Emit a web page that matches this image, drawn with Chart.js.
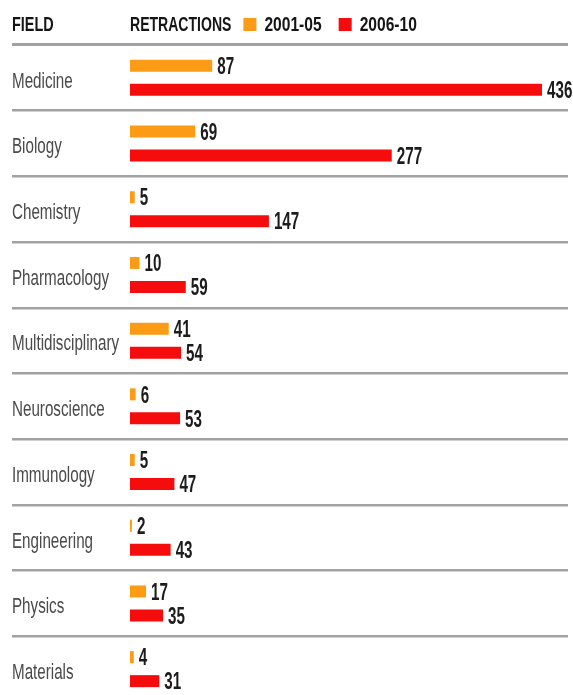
<!DOCTYPE html>
<html lang="en">
<head>
  <meta charset="UTF-8" />
  <title>Retractions by field</title>
  <script src="https://cdn.jsdelivr.net/npm/chart.js"></script>
  <style>
    html, body { margin: 0; padding: 0; background: #fff; overflow: hidden; }
    .wrap { position: relative; width: 573px; height: 702px; }
  </style>
</head>
<body>
  <div class="wrap"><canvas id="chartRetractions"></canvas></div>

  <script>
    const fields = ["Medicine", "Biology", "Chemistry", "Pharmacology", "Multidisciplinary",
                    "Neuroscience", "Immunology", "Engineering", "Physics", "Materials"];
    const retractions2001 = [87, 69, 5, 10, 41, 6, 5, 2, 17, 4];
    const retractions2006 = [436, 277, 147, 59, 54, 53, 47, 43, 35, 31];
    const seriesLabels = ["2001-05", "2006-10"];
    const seriesColors = ["#fb9b16", "#f50d0d"];
    const headerField = "FIELD";
    const headerValues = "RETRACTIONS";

    const FONT = "'Liberation Sans', Arial, sans-serif";

    // squeezed text, the newspaper face is tall and narrow
    function narrowText(ctx, text, x, baseline, size, weight, color, squeeze) {
      ctx.save();
      ctx.font = weight + " " + size + "px " + FONT;
      ctx.fillStyle = color;
      ctx.textAlign = "left";
      ctx.textBaseline = "alphabetic";
      const w = ctx.measureText(text).width * squeeze;
      ctx.translate(x, baseline);
      ctx.scale(squeeze, 1);
      ctx.fillText(text, 0, 0);
      ctx.restore();
      return w;
    }

    const labelsPlugin = {
      id: "labels",
      afterDraw(chart) {
        const ctx = chart.ctx;
        const area = chart.chartArea;
        const yScale = chart.scales.y;

        // header row with the legend
        const hb = 31, hs = 19.5;
        narrowText(ctx, headerField, 12, hb, hs, "bold", "#151515", 0.74);
        let x = area.left;
        x += narrowText(ctx, headerValues, x, hb, hs, "bold", "#151515", 0.72) + 12;
        seriesLabels.forEach((lab, i) => {
          ctx.fillStyle = seriesColors[i];
          ctx.fillRect(x, 18, 13, 13);
          x += 21;
          x += narrowText(ctx, lab, x, hb, hs, "bold", "#151515", 0.8) + 17;
        });

        // field names
        fields.forEach((f, i) => {
          const y = yScale.getPixelForTick(i) + 2;
          narrowText(ctx, f, 12, y + 7.8, 22, "normal", "#4a4a4a", 0.69);
        });

        // values at the bar ends
        chart.data.datasets.forEach((ds, di) => {
          chart.getDatasetMeta(di).data.forEach((bar, i) => {
            narrowText(ctx, String(ds.data[i]), bar.x + 5, bar.y + 8.2, 23, "bold", "#1c1c1c", 0.66);
          });
        });
      }
    };

    new Chart(document.getElementById("chartRetractions"), {
      type: "bar",
      data: {
        labels: fields,
        datasets: [
          { label: seriesLabels[0], data: retractions2001, backgroundColor: seriesColors[0] },
          { label: seriesLabels[1], data: retractions2006, backgroundColor: seriesColors[1] }
        ]
      },
      options: {
        indexAxis: "y",
        responsive: true,
        maintainAspectRatio: false,
        animation: false,
        layout: { padding: { top: 45, left: 12, right: 5, bottom: 0 } },
        datasets: {
          bar: { categoryPercentage: 0.73, barPercentage: 0.5, borderWidth: 0 }
        },
        scales: {
          x: { display: false, min: 0, max: 463.5 },
          y: {
            afterFit(scale) { scale.width = 118; },
            border: { display: false },
            ticks: { display: false },
            grid: {
              color: "#a2a2a2",
              lineWidth: ctx => ctx.index === 0 ? 3 : 2.5,
              tickLength: 118,
              drawTicks: true
            }
          }
        },
        plugins: {
          legend: { display: false },
          tooltip: { enabled: false }
        }
      },
      plugins: [labelsPlugin]
    });
  </script>
</body>
</html>
